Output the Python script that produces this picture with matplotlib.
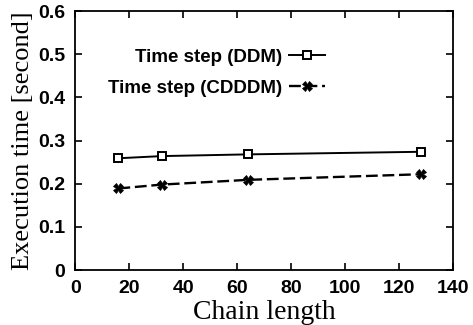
import matplotlib
matplotlib.use("Agg")
import matplotlib.pyplot as plt

# Data
chain_length = [16, 32, 64, 128]
ddm_time = [0.259, 0.264, 0.268, 0.274]
cdddm_time = [0.189, 0.198, 0.209, 0.222]

x_ticks = [0, 20, 40, 60, 80, 100, 120, 140]
y_ticks = [0, 0.1, 0.2, 0.3, 0.4, 0.5, 0.6]
y_tick_labels = ["0", "0.1", "0.2", "0.3", "0.4", "0.5", "0.6"]

sans = "Liberation Sans"
serif = "Liberation Serif"

fig = plt.figure(figsize=(4.73, 3.25), dpi=100)
ax = fig.add_axes([0.159, 0.169, 0.799, 0.797])

ax.plot(chain_length, ddm_time, color="black", linewidth=1.4,
        marker="s", markersize=6, markerfacecolor="white",
        markeredgewidth=1.4, label="Time step (DDM)")
ax.plot(chain_length, cdddm_time, color="black", linewidth=1.7,
        linestyle=(0, (5, 2)), marker="X", markersize=7,
        markeredgewidth=0.5, label="Time step (CDDDM)")

ax.set_xlim(0, 140)
ax.set_ylim(0, 0.6)
ax.set_xticks(x_ticks)
ax.set_yticks(y_ticks)
ax.set_yticklabels(y_tick_labels)

ax.tick_params(direction="in", top=True, right=True, length=5, width=1.2,
               pad=7)
for lbl in ax.get_xticklabels() + ax.get_yticklabels():
    lbl.set_fontfamily(sans)
    lbl.set_fontsize(14)
    lbl.set_fontweight("bold")

for spine in ax.spines.values():
    spine.set_linewidth(1.3)

ax.set_xlabel("Chain length", fontfamily=serif, fontsize=20, labelpad=2)
ax.set_ylabel("Execution time [second]", fontfamily=serif, fontsize=19,
              labelpad=3)

leg = ax.legend(loc="upper right", bbox_to_anchor=(0.661, 0.855),
                frameon=False, markerfirst=False, numpoints=1,
                borderpad=0, borderaxespad=0,
                handlelength=1.9, handletextpad=0.4, labelspacing=0.75,
                prop={"family": sans, "size": 13.5, "weight": "bold"})
for txt in leg.get_texts():
    txt.set_ha("right")

fig.savefig("out.png", dpi=100)
